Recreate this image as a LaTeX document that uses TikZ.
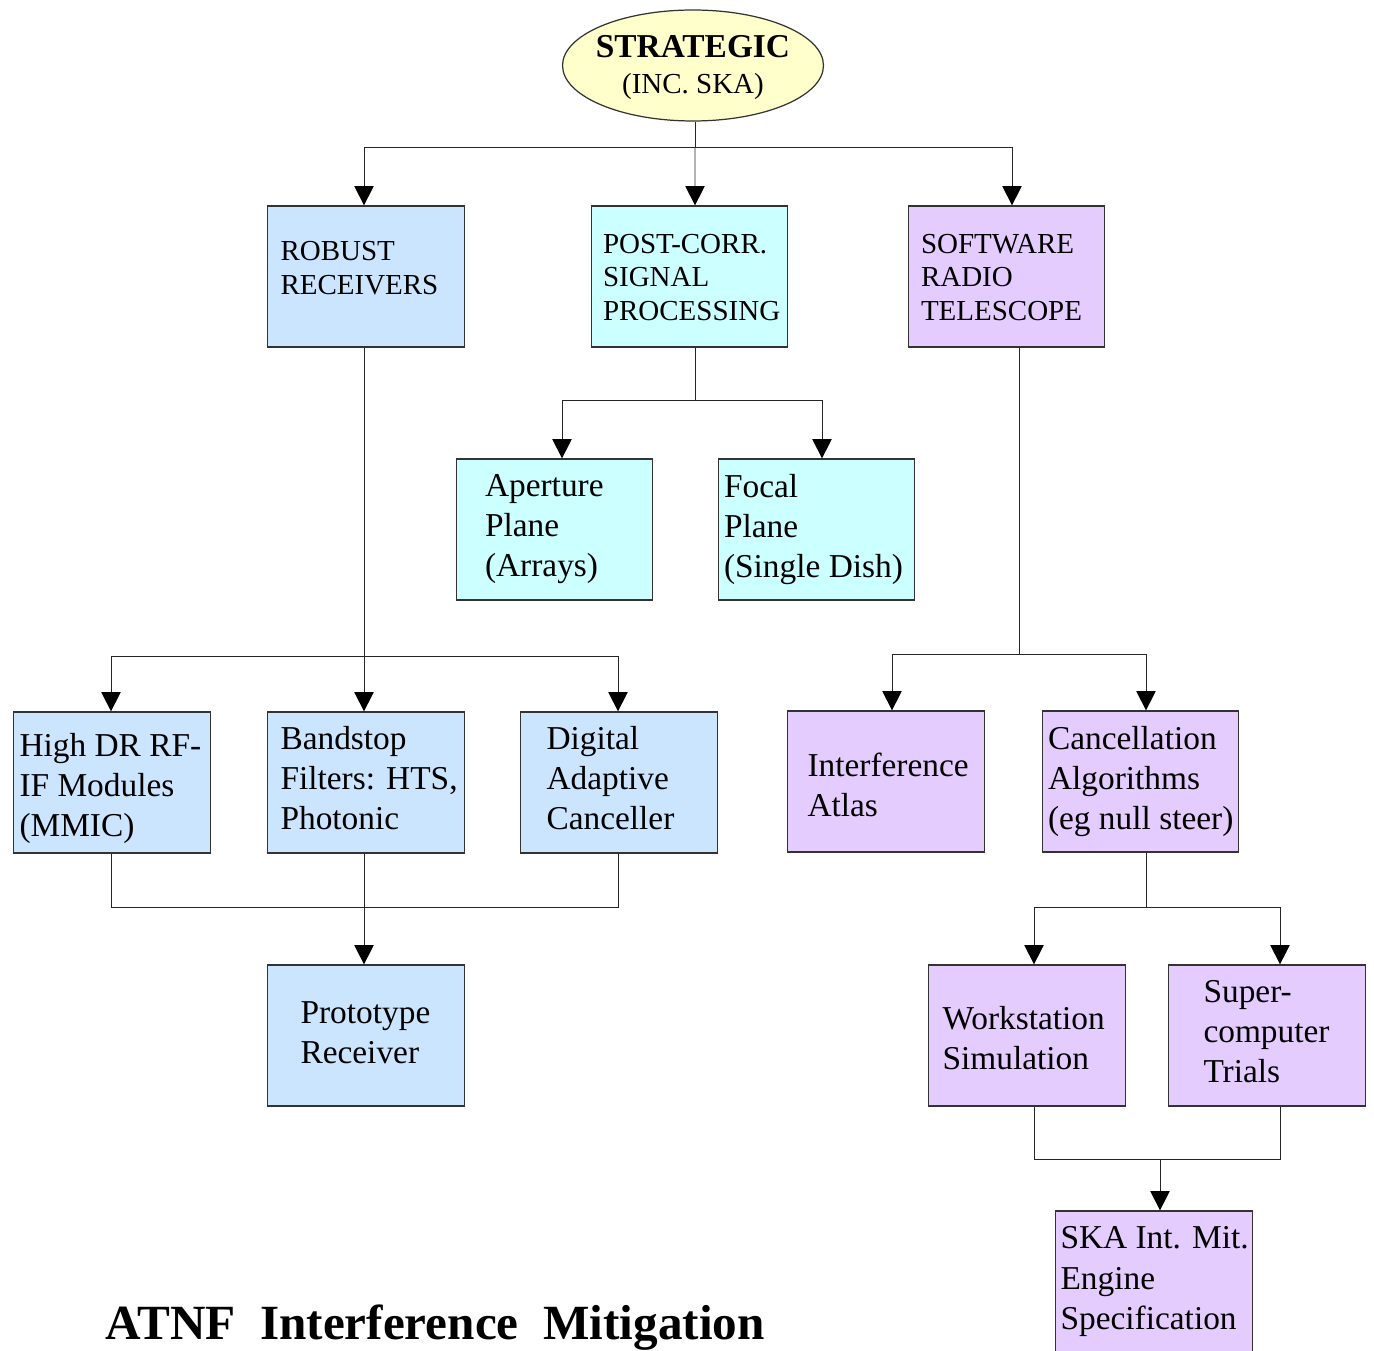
\documentclass[tikz,border=0pt]{standalone}
\usepackage{fontspec}
\setmainfont{Liberation Serif}
\usepackage{xcolor}
\usepackage{tikz}
\usetikzlibrary{arrows.meta, positioning, calc, shapes.geometric}

\definecolor{rxblue}{HTML}{CCE5FF}
\definecolor{pccyan}{HTML}{CCFFFF}
\definecolor{swlilac}{HTML}{E5CCFF}
\definecolor{stratyel}{HTML}{FFFFCC}

\begin{document}
\begin{tikzpicture}[
  x=0.02cm, y=-0.02cm,
  box/.style={draw=black!80, line width=0.7pt, minimum width=3.93cm, minimum height=2.82cm, inner sep=0pt},
  topt/.style={font=\fontsize{16.5}{19.3}\selectfont, align=left, anchor=west, inner sep=0pt},
  subt/.style={font=\fontsize{19}{22.8}\selectfont, align=left, anchor=west, inner sep=0pt},
  link/.style={draw=black!85, line width=0.55pt},
  arr/.style={link, -{Triangle[width=11pt,length=11pt,color=black]}}
]
\useasboundingbox (0,0) rectangle (1374,1351);

% 顶层
\node[ellipse, draw=black!80, line width=0.7pt, fill=stratyel, minimum width=5.22cm, minimum height=2.22cm,
      inner sep=0pt] (strat) at (693,65.5) {};
\node[align=center, inner sep=0pt, font=\fontsize{16.5}{21}\selectfont] at ($(strat)+(0,2)$)
  {{\fontsize{19}{21}\selectfont\bfseries STRATEGIC}\\(INC. SKA)};

% 第一层
\node[box, fill=rxblue] (rob) at (366,276.5) {};
\node[box, fill=pccyan] (pcs) at (689.5,276.5) {};
\node[box, fill=swlilac] (srt) at (1006.5,276.5) {};
\node[topt] at ($(rob.west)+(13,-8)$) {ROBUST\\RECEIVERS};
\node[topt] at ($(pcs.west)+(12,1)$) {POST-CORR.\\SIGNAL\\PROCESSING};
\node[topt] at ($(srt.west)+(13,1)$) {SOFTWARE\\RADIO\\TELESCOPE};

% 信号处理分支
\node[box, fill=pccyan] (ap) at (554.5,529.5) {};
\node[box, fill=pccyan] (fp) at (816.5,529.5) {};
\node[subt] at ($(ap.west)+(29,0)$) {Aperture\\Plane\\(Arrays)};
\node[subt] at ($(fp.west)+(6,0)$) {Focal\\Plane\\(Single Dish)};

% 接收机分支
\node[box, fill=rxblue] (hdr) at (112,782.5) {};
\node[box, fill=rxblue] (bsf) at (366,782.5) {};
\node[box, fill=rxblue] (dac) at (619,782.5) {};
\node[box, fill=rxblue] (proto) at (366,1035.5) {};
\node[subt] at ($(hdr.west)+(6,6)$) {High DR RF-\\IF Modules\\(MMIC)};
\node[subt] at ($(bsf.west)+(13,-4)$) {Bandstop\\Filters: HTS,\\Photonic};
\node[subt] at ($(dac.west)+(26,-4)$) {Digital\\Adaptive\\Canceller};
\node[subt] at ($(proto.west)+(33,-3)$) {Prototype\\Receiver};

% 软件望远镜分支
\node[box, fill=swlilac] (ia) at (886,781.5) {};
\node[box, fill=swlilac] (ca) at (1140.5,781.5) {};
\node[box, fill=swlilac] (ws) at (1027,1035.5) {};
\node[box, fill=swlilac] (sc) at (1267,1035.5) {};
\node[box, fill=swlilac] (ska) at (1154,1281.5) {};
\node[subt] at ($(ia.west)+(20,3)$) {Interference\\Atlas};
\node[subt] at ($(ca.west)+(6,0)$) {Cancellation\\Algorithms\\(eg null steer)};
\node[subt] at ($(ws.west)+(14,3)$) {Workstation\\Simulation};
\node[subt] at ($(sc.west)+(35,-4)$) {Super-\\computer\\Trials};
\node[subt] at ($(ska.west)+(5,0)$) {SKA Int. Mit.\\Engine\\Specification};

% 标题
\node[anchor=base west, inner sep=0pt, font=\fontsize{28}{30}\selectfont\bfseries] (title) at (105,1339)
  {ATNF\ \ Interference\ \ Mitigation};

% 连线
\draw[link] ($(strat.south)+(2,0)$) -- ++(0,26) coordinate (j0);
\draw[arr] (j0) -- ($(pcs.north)+(5.5,0)$);
\draw[arr] (j0) -| ($(rob.north)+(-2,0)$);
\draw[arr] (j0) -| ($(srt.north)+(5.5,0)$);

\draw[link] ($(rob.south)+(-2,0)$) -- ++(0,309) coordinate (j1);
\draw[arr] (j1) -- ($(bsf.north)+(-2,0)$);
\draw[arr] (j1) -| ($(hdr.north)+(-1,0)$);
\draw[arr] (j1) -| ($(dac.north)+(-1,0)$);

\draw[link] ($(pcs.south)+(5.5,0)$) -- ++(0,53) coordinate (j2);
\draw[arr] (j2) -| ($(ap.north)+(7.5,0)$);
\draw[arr] (j2) -| ($(fp.north)+(5.5,0)$);

\draw[link] ($(srt.south)+(12.5,0)$) -- ++(0,307) coordinate (j3);
\draw[arr] (j3) -| ($(ia.north)+(6,0)$);
\draw[arr] (j3) -| ($(ca.north)+(5.5,0)$);

\coordinate (j4) at ($(bsf.south)+(-2,54)$);
\draw[link] ($(hdr.south)+(-1,0)$) |- (j4);
\draw[link] ($(dac.south)+(-1,0)$) |- (j4);
\draw[arr] ($(bsf.south)+(-2,0)$) -- ($(proto.north)+(-2,0)$);

\draw[link] ($(ca.south)+(5.5,0)$) -- ++(0,55) coordinate (j5);
\draw[arr] (j5) -| ($(ws.north)+(7,0)$);
\draw[arr] (j5) -| ($(sc.north)+(13,0)$);

\coordinate (j6) at ($(ska.north)+(6,-51)$);
\draw[link] ($(ws.south)+(7,0)$) |- (j6);
\draw[link] ($(sc.south)+(13,0)$) |- (j6);
\draw[arr] (j6) -- ($(ska.north)+(6,0)$);
\end{tikzpicture}
\end{document}
